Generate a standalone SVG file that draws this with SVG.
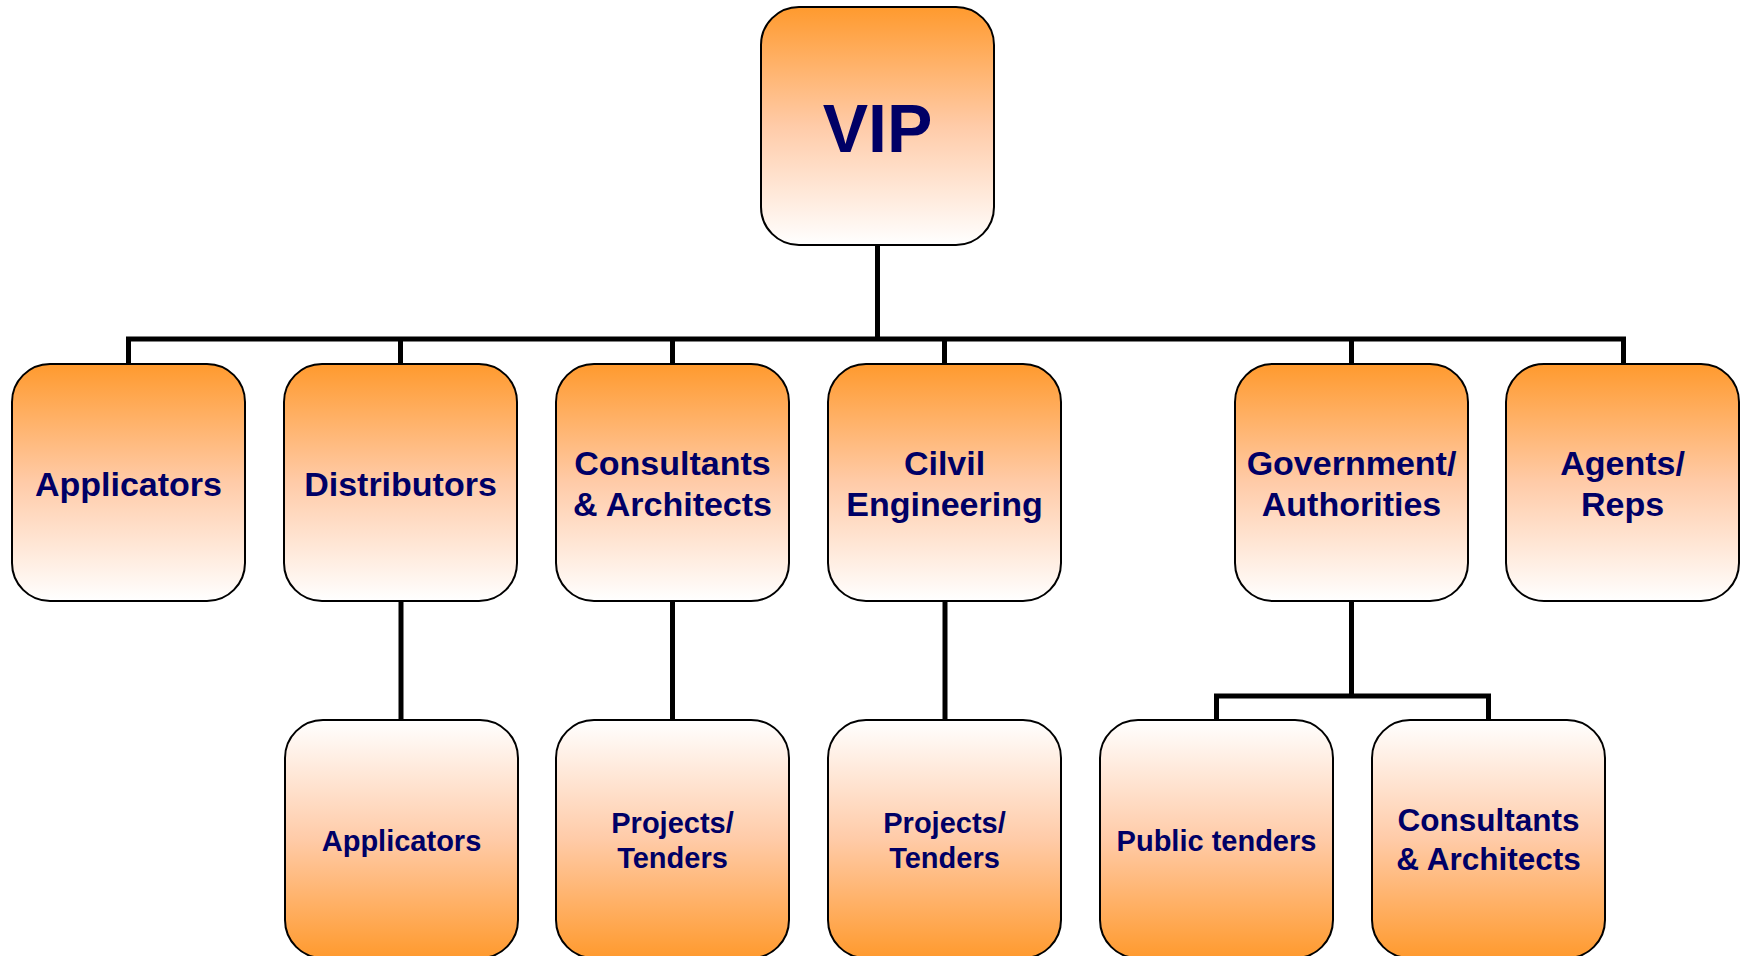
<svg xmlns="http://www.w3.org/2000/svg" width="1740" height="956" viewBox="0 0 1740 956">
<defs>
<linearGradient id="gDown" x1="0" y1="0" x2="0" y2="1">
<stop offset="0" stop-color="#FF9A2E"/>
<stop offset="0.5" stop-color="#FFCBA8"/>
<stop offset="1" stop-color="#FFFFFF"/>
</linearGradient>
<linearGradient id="gUp" x1="0" y1="1" x2="0" y2="0">
<stop offset="0" stop-color="#FF9A2E"/>
<stop offset="0.5" stop-color="#FFCBA8"/>
<stop offset="1" stop-color="#FFFFFF"/>
</linearGradient>
</defs>
<style>
.b1{fill:url(#gDown);stroke:#000;stroke-width:2}
.b2{fill:url(#gUp);stroke:#000;stroke-width:2}
.t{font-family:"Liberation Sans",Arial,sans-serif;font-weight:bold;fill:#000066;text-anchor:middle}
.f1{font-size:34px}
.f2{font-size:29px}
.f3{font-size:31.5px}
.c{fill:none;stroke:#000;stroke-width:5;stroke-linejoin:miter}
</style>
<rect width="1740" height="956" fill="#fff"/>
<g id="connectors">
<path class="c" d="M877.5 245V339"/>
<path class="c" d="M128.5 364V339H1623.5V364"/>
<path class="c" d="M400.5 339V364M672.5 339V364M944.5 339V364M1351.5 339V364"/>
<path class="c" d="M401 601V720"/>
<path class="c" d="M672.5 601V720"/>
<path class="c" d="M945 601V720"/>
<path class="c" d="M1351.5 601V696"/>
<path class="c" d="M1216.5 720V696H1488.5V720"/>
</g>
<g id="vip">
<rect class="b1" x="761" y="7" width="233" height="238" rx="38"/>
<text class="t" x="877.5" y="152" font-size="68">VIP</text>
</g>
<g id="applicators">
<rect class="b1" x="12" y="364" width="233" height="237" rx="38"/>
<text class="t f1" x="128.5" y="496">Applicators</text>
</g>
<g id="distributors">
<rect class="b1" x="284" y="364" width="233" height="237" rx="38"/>
<text class="t f1" x="400.5" y="496">Distributors</text>
</g>
<g id="consultants">
<rect class="b1" x="556" y="364" width="233" height="237" rx="38"/>
<text class="t f1" x="672.5" y="475">Consultants</text>
<text class="t f1" x="672.5" y="516">&amp; Architects</text>
</g>
<g id="civil">
<rect class="b1" x="828" y="364" width="233" height="237" rx="38"/>
<text class="t f1" x="944.5" y="475">Cilvil</text>
<text class="t f1" x="944.5" y="516">Engineering</text>
</g>
<g id="government">
<rect class="b1" x="1235" y="364" width="233" height="237" rx="38"/>
<text class="t f1" x="1351.5" y="475">Government/</text>
<text class="t f1" x="1351.5" y="516">Authorities</text>
</g>
<g id="agents">
<rect class="b1" x="1506" y="364" width="233" height="237" rx="38"/>
<text class="t f1" x="1622.5" y="475">Agents/</text>
<text class="t f1" x="1622.5" y="516">Reps</text>
</g>
<g id="applicators2">
<rect class="b2" x="285" y="720" width="233" height="238" rx="38"/>
<text class="t f2" x="401.5" y="851">Applicators</text>
</g>
<g id="projects1">
<rect class="b2" x="556" y="720" width="233" height="238" rx="38"/>
<text class="t f2" x="672.5" y="833">Projects/</text>
<text class="t f2" x="672.5" y="868">Tenders</text>
</g>
<g id="projects2">
<rect class="b2" x="828" y="720" width="233" height="238" rx="38"/>
<text class="t f2" x="944.5" y="833">Projects/</text>
<text class="t f2" x="944.5" y="868">Tenders</text>
</g>
<g id="public">
<rect class="b2" x="1100" y="720" width="233" height="238" rx="38"/>
<text class="t f2" x="1216.5" y="851">Public tenders</text>
</g>
<g id="consultants2">
<rect class="b2" x="1372" y="720" width="233" height="238" rx="38"/>
<text class="t f3" x="1488.5" y="831">Consultants</text>
<text class="t f3" x="1488.5" y="870">&amp; Architects</text>
</g>
</svg>
